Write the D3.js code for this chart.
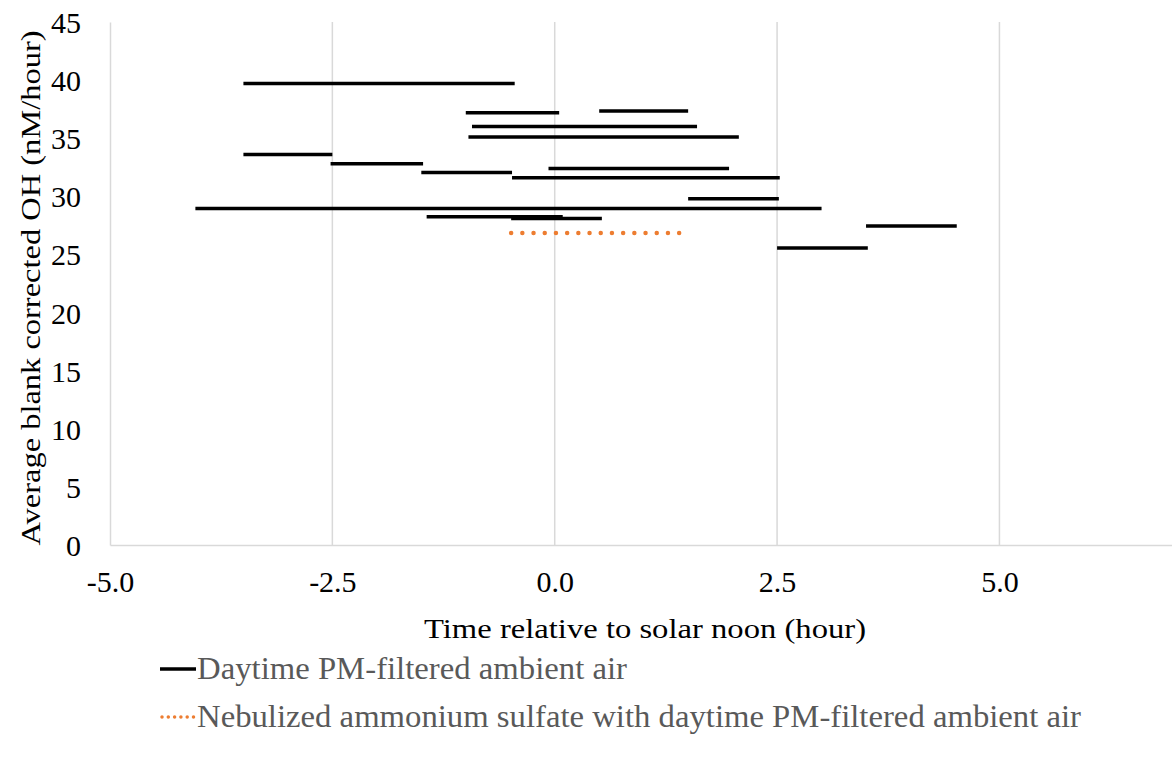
<!DOCTYPE html>
<html>
<head>
<meta charset="utf-8">
<script src="https://cdn.jsdelivr.net/npm/d3@7"></script>
<style>
	body { margin: 0; background: #fff; }
</style>
</head>
<body>
<div id="chart"></div>
<script>
// Daytime PM-filtered ambient air: each run is a horizontal segment [start, end] at its average OH
const ambientStart = [-3.5, -1.0, 0.5, -0.93, -0.97, -3.5, -2.52, -0.07, -1.5, -0.48, 1.5, -4.04, -1.44, -0.49, 3.5, 2.5];
const ambientEnd   = [-0.45, 0.05, 1.5, 1.6, 2.07, -2.5, -1.48, 1.96, -0.48, 2.53, 2.52, 3.0, 0.09, 0.53, 4.52, 3.52];
const ambientOH    = [39.7, 37.2, 37.35, 36.0, 35.1, 33.6, 32.8, 32.4, 32.05, 31.6, 29.8, 28.95, 28.25, 28.1, 27.45, 25.55];

// Nebulized ammonium sulfate with daytime PM-filtered ambient air
const nebStart = [-0.49];
const nebEnd   = [1.41];
const nebOH    = [26.85];

const xTicks = [-5, -2.5, 0, 2.5, 5];
const yTicks = [0, 5, 10, 15, 20, 25, 30, 35, 40, 45];
const seriesNames = ["Daytime PM-filtered ambient air", "Nebulized ammonium sulfate with daytime PM-filtered ambient air"];

// pick a Times-like face if there is one installed
function hasFont(name) {
	let ctx = document.createElement('canvas').getContext('2d');
	let s = 'abcdefghijklmnopqrstuvwxyzABCDEFGHIJ0123456789';
	return ['monospace', 'sans-serif'].some(fb => {
		ctx.font = '40px ' + fb;
		let w0 = ctx.measureText(s).width;
		ctx.font = '40px "' + name + '", ' + fb;
		return ctx.measureText(s).width != w0;
	});
}
let faces = ['Liberation Serif', 'Times New Roman', 'Tinos', 'Nimbus Roman', 'Nimbus Roman No9 L', 'FreeSerif', 'Noto Serif', 'DejaVu Serif'];
let face = faces.find(hasFont);
const serif = (face ? '"' + face + '", ' : '') + 'serif';

// width of a short numeric label in Times metrics (em units)
const timesW = {'-': 0.333, '.': 0.25};
const numWidth = (s, size) => s.split('').reduce((a, c) => a + (timesW[c] || 0.5), 0) * size;

let full_width = 1172;
let full_height = 763;
let margin = {top: 22, left: 110, bottom: 218};
let plotBottom = full_height - margin.bottom;

let svg = d3.select('#chart')
	.append('svg')
		.attr('width', full_width)
		.attr('height', full_height)
		.style('font-family', serif);

let x = d3.scaleLinear()
	.domain([-5, 6.94])
	.range([margin.left, full_width]);
let y = d3.scaleLinear()
	.domain([0, 45])
	.range([plotBottom, margin.top]);

// vertical gridlines
svg.append('g')
	.selectAll('line')
	.data(xTicks.slice(1))
	.enter()
	.append('line')
		.attr('x1', d => x(d)).attr('x2', d => x(d))
		.attr('y1', y(45)).attr('y2', y(0))
		.style('stroke', '#d9d9d9')
		.style('stroke-width', 1.5);

// axes lines (no ticks); keep plain hyphen for negatives like the original
let tickSize = 30;
let xAxis = svg.append('g')
	.attr('transform', 'translate(0,' + plotBottom + ')')
	.call(d3.axisBottom(x).tickValues(xTicks).tickSize(0).tickPadding(26)
		.tickFormat(d => d.toFixed(1)));
let yAxis = svg.append('g')
	.attr('transform', 'translate(' + margin.left + ',0)')
	.call(d3.axisLeft(y).tickValues(yTicks).tickSize(0).tickPadding(29));

[xAxis, yAxis].forEach(a => {
	a.attr('font-family', serif).attr('font-size', tickSize);
	a.select('.domain').style('stroke', '#d9d9d9').style('stroke-width', 1.5);
	a.selectAll('text')
		.style('fill', '#000')
		.attr('textLength', function() { return numWidth(this.textContent, tickSize); })
		.attr('lengthAdjust', 'spacingAndGlyphs');
});
yAxis.selectAll('text').attr('dy', '0.35em');

// ambient segments
svg.append('g')
	.selectAll('line')
	.data(ambientOH.map((v, i) => ({s: ambientStart[i], e: ambientEnd[i], v: v})))
	.enter()
	.append('line')
		.attr('x1', d => x(d.s)).attr('x2', d => x(d.e))
		.attr('y1', d => y(d.v)).attr('y2', d => y(d.v))
		.style('stroke', '#000')
		.style('stroke-width', 3.5);

// nebulized segment, round dots
svg.append('g')
	.selectAll('line')
	.data(nebOH.map((v, i) => ({s: nebStart[i], e: nebEnd[i], v: v})))
	.enter()
	.append('line')
		.attr('x1', d => x(d.s)).attr('x2', d => x(d.e))
		.attr('y1', d => y(d.v)).attr('y2', d => y(d.v))
		.style('stroke', '#ED7D31')
		.style('stroke-width', 4.5)
		.style('stroke-linecap', 'round')
		.style('stroke-dasharray', '0 11.2');

// axis titles
svg.append('text')
	.attr('x', (424 + 866) / 2)
	.attr('y', 638)
	.attr('text-anchor', 'middle')
	.attr('font-size', '28px')
	.attr('textLength', 442)
	.attr('lengthAdjust', 'spacingAndGlyphs')
	.text('Time relative to solar noon (hour)');

svg.append('text')
	.attr('transform', 'translate(40,' + 288 + ') rotate(-90)')
	.attr('text-anchor', 'middle')
	.attr('font-size', '28px')
	.attr('textLength', 515)
	.attr('lengthAdjust', 'spacingAndGlyphs')
	.text('Average blank corrected OH (nM/hour)');

// legend
let legend = svg.append('g');
let legendY = [669, 717];
let legendW = [430, 884];
legend.append('line')
	.attr('x1', 160).attr('x2', 196)
	.attr('y1', legendY[0]).attr('y2', legendY[0])
	.style('stroke', '#000').style('stroke-width', 3.5);
legend.append('line')
	.attr('x1', 162).attr('x2', 196)
	.attr('y1', legendY[1]).attr('y2', legendY[1])
	.style('stroke', '#ED7D31').style('stroke-width', 3.5)
	.style('stroke-linecap', 'round')
	.style('stroke-dasharray', '0 6.3');
seriesNames.forEach((n, i) => {
	legend.append('text')
		.attr('x', 197)
		.attr('y', legendY[i] + 10)
		.attr('font-size', '31px')
		.attr('textLength', legendW[i])
		.attr('lengthAdjust', 'spacingAndGlyphs')
		.style('fill', '#595959')
		.text(n);
});
</script>
</body>
</html>
